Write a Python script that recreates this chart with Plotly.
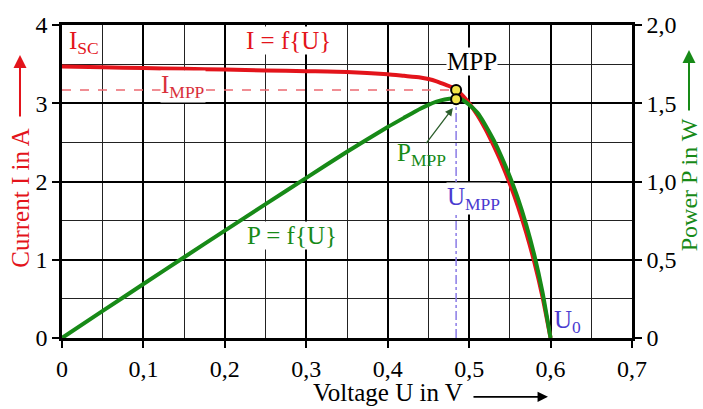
import plotly.graph_objects as go

# ---- data ----
voltage = [0, 0.05, 0.1, 0.15, 0.2, 0.25, 0.3, 0.35, 0.4, 0.42, 0.44, 0.45, 0.46, 0.47, 0.48,
           0.49, 0.5, 0.51, 0.52, 0.53, 0.54, 0.55, 0.56, 0.57, 0.58, 0.59, 0.6]
current = [3.47, 3.46, 3.45, 3.44, 3.43, 3.42, 3.41, 3.40, 3.37, 3.35, 3.33, 3.31, 3.28, 3.24, 3.20,
           3.12, 3.00, 2.85, 2.67, 2.46, 2.23, 1.97, 1.68, 1.35, 0.97, 0.53, 0.0]
power = [0, 0.173, 0.345, 0.516, 0.686, 0.855, 1.023, 1.19, 1.348, 1.407, 1.465, 1.49, 1.51, 1.524, 1.531,
         1.526, 1.49, 1.44, 1.36, 1.265, 1.155, 1.03, 0.89, 0.725, 0.53, 0.295, 0.0]

u_mpp = 0.484
i_mpp = 3.17
p_mpp = 1.525

x_ticks = [0, 0.1, 0.2, 0.3, 0.4, 0.5, 0.6, 0.7]
x_ticktext = ["0", "0,1", "0,2", "0,3", "0,4", "0,5", "0,6", "0,7"]
y_ticks = [0, 1, 2, 3, 4]
y_ticktext = ["0", "1", "2", "3", "4"]
y2_ticks = [0, 0.5, 1.0, 1.5, 2.0]
y2_ticktext = ["0", "0,5", "1,0", "1,5", "2,0"]

RED = "#e3141b"
GREEN = "#178a17"
PURPLE = "#4a3bd0"
FONT = "Liberation Serif"
FS = 25
TFS = 24

fig = go.Figure()

# reference lines
fig.add_trace(go.Scatter(x=[0, u_mpp], y=[i_mpp, i_mpp], mode="lines",
                         line=dict(color="#ec6a72", width=1.5, dash="dash"),
                         hoverinfo="skip", showlegend=False))
fig.add_trace(go.Scatter(x=[u_mpp, u_mpp], y=[0, p_mpp], mode="lines", yaxis="y2",
                         line=dict(color="#8b7be6", width=1.5, dash="dashdot"),
                         hoverinfo="skip", showlegend=False))

# curves
fig.add_trace(go.Scatter(x=voltage, y=power, mode="lines", yaxis="y2",
                         line=dict(color=GREEN, width=4, shape="spline", smoothing=0.5),
                         showlegend=False))
fig.add_trace(go.Scatter(x=voltage, y=current, mode="lines",
                         line=dict(color=RED, width=4, shape="spline", smoothing=0.5),
                         showlegend=False))

# MPP markers
fig.add_trace(go.Scatter(x=[u_mpp], y=[i_mpp], mode="markers",
                         marker=dict(color="#f2e44a", size=10, line=dict(color="black", width=2)),
                         showlegend=False, cliponaxis=False))
fig.add_trace(go.Scatter(x=[u_mpp], y=[p_mpp], mode="markers", yaxis="y2",
                         marker=dict(color="#f2e44a", size=10, line=dict(color="black", width=2)),
                         showlegend=False, cliponaxis=False))

def label(text, x, y, color, xanchor="center", bg="white", **kw):
    fig.add_annotation(text=text, x=x, y=y, xref="x", yref="y", showarrow=False,
                       font=dict(family=FONT, size=FS, color=color), xanchor=xanchor,
                       yanchor="middle", bgcolor=bg, borderpad=0, **kw)

label("I<sub>SC</sub>", 0.007, 3.78, RED, xanchor="left", bg=None)
label("I = f{U}", 0.278, 3.80, RED)
label("I<sub>MPP</sub>", 0.148, 3.21, "#d9303a")
label("MPP", 0.504, 3.53, "black")
label("P<sub>MPP</sub>", 0.442, 2.34, GREEN, bg=None)
label("U<sub>MPP</sub>", 0.505, 1.78, PURPLE)
label("U<sub>0</sub>", 0.621, 0.21, PURPLE, bg=None)
label("P = f{U}", 0.283, 1.31, GREEN)

# P_MPP arrow
fig.add_annotation(x=0.480, y=2.94, ax=0.446, ay=2.47, xref="x", yref="y", axref="x", ayref="y",
                   text="", showarrow=True, arrowhead=2, arrowsize=1.2, arrowwidth=1.3,
                   arrowcolor="#2c5e2c")

# axis titles
def title(text, x, y, color, angle, size=FS):
    fig.add_annotation(text=text, x=x, y=y, xref="paper", yref="paper", showarrow=False,
                       textangle=angle, xanchor="center", yanchor="middle",
                       font=dict(family=FONT, size=size, color=color))

title("Current I in A", -0.072, 0.448, RED, -90)
title("Power P in W", 1.1, 0.488, GREEN, -90, size=24)
title("Voltage U in V", 0.572, -0.175, "black", 0)

# title arrows
fig.add_annotation(x=-0.0737, y=0.904, xref="paper", yref="paper", ax=0, ay=63,
                   text="", showarrow=True, arrowhead=2, arrowsize=1.3, arrowwidth=2,
                   arrowcolor=RED)
fig.add_annotation(x=1.1, y=0.92, xref="paper", yref="paper", ax=0, ay=62,
                   text="", showarrow=True, arrowhead=2, arrowsize=1.3, arrowwidth=2,
                   arrowcolor=GREEN)
fig.add_annotation(x=0.8526, y=-0.188, xref="paper", yref="paper", ax=-76, ay=0,
                   text="", showarrow=True, arrowhead=2, arrowsize=1.3, arrowwidth=1.6,
                   arrowcolor="black")

axis_common = dict(showline=True, linecolor="black", linewidth=2.5,
                   ticks="outside", ticklen=7, tickwidth=2, tickcolor="black",
                   tickfont=dict(family=FONT, size=TFS, color="black"), zeroline=False)

fig.update_layout(
    width=703, height=409,
    margin=dict(l=62, r=71, t=14, b=71),
    paper_bgcolor="white", plot_bgcolor="white",
    showlegend=False,
    font=dict(family=FONT),
    xaxis=dict(range=[0, 0.7], tickvals=x_ticks, ticktext=x_ticktext, mirror=True,
               showgrid=True, gridcolor="black", gridwidth=2,
               minor=dict(dtick=0.05, tick0=0, showgrid=True, gridcolor="#222222", gridwidth=1.3),
               **axis_common),
    yaxis=dict(range=[0, 4], tickvals=y_ticks, ticktext=y_ticktext, mirror=False,
               showgrid=True, gridcolor="black", gridwidth=2,
               minor=dict(dtick=0.5, tick0=0, showgrid=True, gridcolor="#222222", gridwidth=1.3),
               **axis_common),
    yaxis2=dict(range=[0, 2], tickvals=y2_ticks, ticktext=y2_ticktext, overlaying="y",
                side="right", showgrid=False, **axis_common),
)

fig.write_html("out.html")
